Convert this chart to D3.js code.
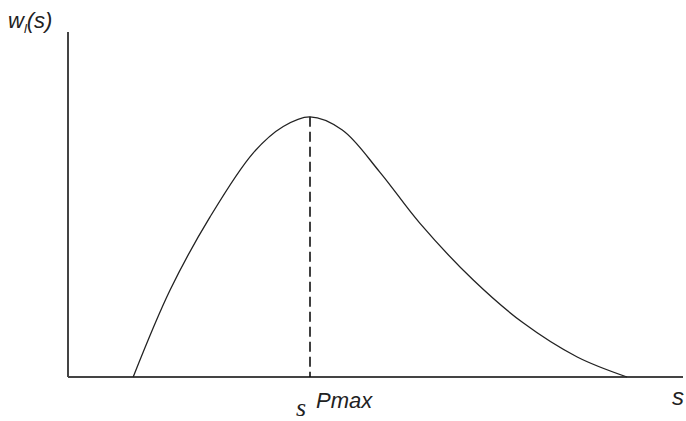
<!DOCTYPE html>
<html>
<head>
<meta charset="utf-8">
<script src="https://cdn.jsdelivr.net/npm/d3@7"></script>
<style>
  html, body { margin: 0; padding: 0; background: #fff; }
  svg { display: block; }
</style>
</head>
<body>
<svg id="chart" width="686" height="421"></svg>
<script>
// curve w_l(s) (arbitrary units 0..100)
const sValues = [10.6, 16.6, 23.1, 30.1, 35.0, 39.35, 44.6, 50.7, 57.2, 65.9, 74.0, 82.8, 90.9]
const wValues = [0, 25.2, 46.4, 64.9, 72.6, 75.4, 71.6, 59.4, 44.6, 28.1, 15.7, 5.8, 0]
const sPmax = 39.35
const wPmax = 75.4

const width = 686
const height = 421
const margin = { top: 32, right: 3, bottom: 44, left: 68 }

const x = d3.scaleLinear().domain([0, 100]).range([margin.left, width - margin.right])
const y = d3.scaleLinear().domain([0, 100]).range([height - margin.bottom, margin.top])

const svg = d3.select('#chart')

// axes (plain lines, no ticks)
svg.append('line')
  .attr('x1', x(0)).attr('x2', x(0))
  .attr('y1', y(100)).attr('y2', y(0))
  .attr('stroke', '#444').attr('stroke-width', 2)

svg.append('line')
  .attr('x1', x(0)).attr('x2', x(100))
  .attr('y1', y(0)).attr('y2', y(0))
  .attr('stroke', '#444').attr('stroke-width', 2)

// dashed line at the maximum
svg.append('line')
  .attr('x1', x(sPmax)).attr('x2', x(sPmax))
  .attr('y1', y(wPmax)).attr('y2', y(0))
  .attr('stroke', '#111').attr('stroke-width', 1.6)
  .attr('stroke-dasharray', '10,5')

const line = d3.line()
  .x((d, i) => x(sValues[i]))
  .y((d, i) => y(wValues[i]))
  .curve(d3.curveCatmullRom.alpha(0.5))

svg.append('path')
  .datum(wValues)
  .attr('d', line)
  .attr('fill', 'none')
  .attr('stroke', '#222')
  .attr('stroke-width', 1.3)

// labels
const yLabel = svg.append('text')
  .attr('x', 8).attr('y', 28)
  .attr('font-family', 'Liberation Sans, Arial, sans-serif')
  .attr('font-style', 'italic')
  .attr('font-size', 22)
  .attr('fill', '#222')
yLabel.append('tspan').text('w')
yLabel.append('tspan').attr('font-size', 13).attr('dy', 5).text('l')
yLabel.append('tspan').attr('dy', -5).text('(s)')

svg.append('text')
  .attr('x', 296).attr('y', 416)
  .attr('font-family', 'Liberation Serif, Times New Roman, serif')
  .attr('font-style', 'italic')
  .attr('font-size', 26)
  .attr('fill', '#222')
  .text('s')

svg.append('text')
  .attr('x', 316).attr('y', 408)
  .attr('font-family', 'Liberation Sans, Arial, sans-serif')
  .attr('font-style', 'italic')
  .attr('font-size', 22)
  .attr('fill', '#222')
  .text('Pmax')

svg.append('text')
  .attr('x', 672).attr('y', 405)
  .attr('font-family', 'Liberation Sans, Arial, sans-serif')
  .attr('font-style', 'italic')
  .attr('font-size', 24)
  .attr('fill', '#222')
  .text('s')
</script>
</body>
</html>
